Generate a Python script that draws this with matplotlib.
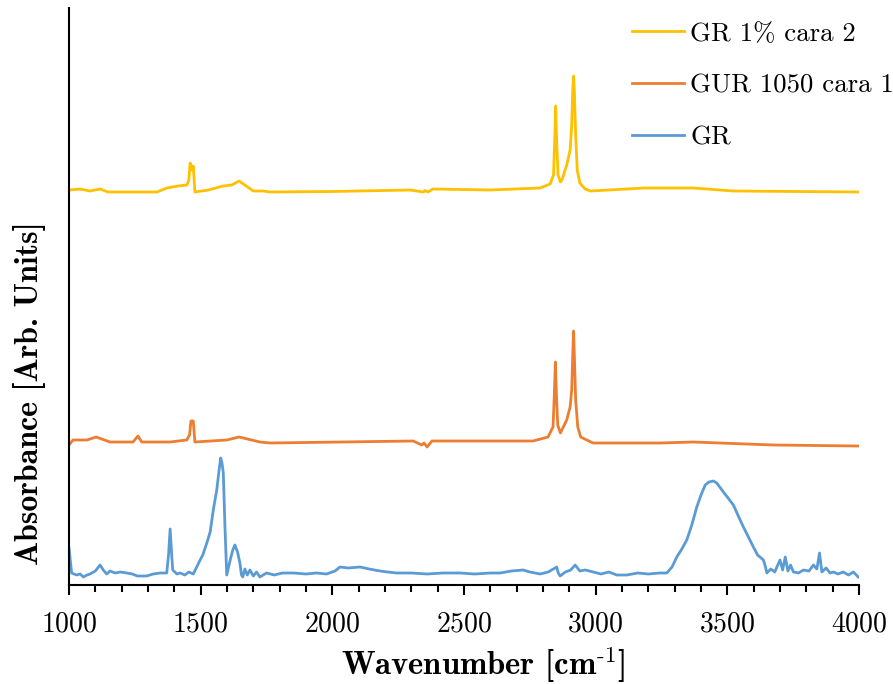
import matplotlib
matplotlib.use('Agg')
import matplotlib.pyplot as plt
from matplotlib.ticker import MultipleLocator

# GR 1% cara 2 (offset spectrum, arb. units)
wn_gr1 = [1000, 1042, 1080, 1118, 1148, 1250, 1334, 1372, 1414, 1448, 1455, 1460, 1466, 1472, 1478,
          1530, 1585, 1618, 1646, 1700, 1737, 1763, 2000, 2295, 2345, 2352, 2363, 2382, 2600, 2789,
          2827, 2840, 2845, 2848, 2851, 2857, 2866, 2872, 2890, 2903, 2909, 2913, 2916, 2919, 2924,
          2930, 2940, 2960, 2980, 3188, 3370, 3522, 3996]
ab_gr1 = [3.95, 3.96, 3.94, 3.96, 3.93, 3.93, 3.93, 3.97, 3.99, 4.00, 4.05, 4.22, 4.15, 4.19, 3.93,
          3.95, 3.99, 4.00, 4.04, 3.94, 3.94, 3.93, 3.935, 3.95, 3.93, 3.945, 3.93, 3.96, 3.95, 3.97,
          4.01, 4.10, 4.50, 4.79, 4.50, 4.10, 4.03, 4.05, 4.20, 4.35, 4.60, 4.95, 5.09, 4.95, 4.50,
          4.15, 4.02, 3.96, 3.94, 3.97, 3.97, 3.94, 3.93]

# GUR 1050 cara 1
wn_gur = [1000, 1015, 1068, 1103, 1156, 1243, 1262, 1276, 1384, 1447, 1458, 1463, 1472, 1478,
          1599, 1646, 1725, 1763, 2307, 2340, 2348, 2360, 2378, 2762, 2819, 2838, 2843, 2847, 2851,
          2856, 2866, 2890, 2903, 2909, 2913, 2916, 2919, 2924, 2932, 2943, 2990, 3244, 3370, 3674, 3996]
ab_gur = [1.40, 1.45, 1.45, 1.48, 1.43, 1.43, 1.49, 1.43, 1.43, 1.45, 1.50, 1.64, 1.64, 1.43,
          1.45, 1.48, 1.43, 1.42, 1.44, 1.40, 1.42, 1.38, 1.44, 1.44, 1.48, 1.58, 1.90, 2.23, 1.90,
          1.60, 1.52, 1.65, 1.78, 1.95, 2.30, 2.54, 2.30, 1.85, 1.58, 1.48, 1.42, 1.42, 1.43, 1.40, 1.39]

# GR
wn_gr = [1000, 1005, 1010, 1020, 1029, 1042, 1055, 1068, 1080, 1100, 1118, 1130, 1143, 1156, 1175,
         1195, 1219, 1240, 1260, 1295, 1320, 1346, 1371, 1378, 1384, 1390, 1394, 1410, 1422, 1440,
         1455, 1472, 1485, 1498, 1508, 1517, 1527, 1536, 1548, 1561, 1570, 1576, 1581, 1586, 1592,
         1599, 1606, 1614, 1622, 1630, 1640, 1649, 1655, 1660, 1668, 1677, 1687, 1700, 1712, 1725,
         1750, 1780, 1810, 1852, 1900, 1940, 1978, 2010, 2029, 2060, 2105, 2140, 2181, 2210, 2244,
         2300, 2360, 2420, 2485, 2540, 2600, 2637, 2680, 2725, 2750, 2789, 2820, 2852, 2858, 2865,
         2885, 2905, 2922, 2940, 2960, 2991, 3020, 3050, 3080, 3118, 3160, 3200, 3244, 3270, 3290,
         3308, 3325, 3346, 3365, 3384, 3400, 3416, 3430, 3447, 3460, 3485, 3500, 3523, 3540, 3561,
         3580, 3599, 3615, 3637, 3645, 3650, 3665, 3680, 3700, 3710, 3720, 3730, 3740, 3751, 3770,
         3789, 3810, 3827, 3840, 3850, 3859, 3875, 3890, 3903, 3920, 3940, 3960, 3979, 3990, 3997]
ab_gr = [0.37, 0.25, 0.12, 0.11, 0.10, 0.11, 0.08, 0.10, 0.11, 0.14, 0.20, 0.15, 0.11, 0.14, 0.12,
         0.13, 0.12, 0.11, 0.09, 0.09, 0.11, 0.12, 0.12, 0.30, 0.56, 0.30, 0.15, 0.11, 0.12, 0.10,
         0.13, 0.11, 0.18, 0.25, 0.30, 0.37, 0.45, 0.53, 0.75, 0.95, 1.15, 1.27, 1.22, 1.12, 0.60,
         0.10, 0.18, 0.27, 0.35, 0.40, 0.33, 0.22, 0.10, 0.08, 0.16, 0.10, 0.15, 0.09, 0.13, 0.08,
         0.12, 0.10, 0.12, 0.12, 0.11, 0.12, 0.11, 0.14, 0.18, 0.17, 0.18, 0.16, 0.14, 0.13, 0.12,
         0.12, 0.11, 0.12, 0.12, 0.11, 0.12, 0.12, 0.14, 0.15, 0.13, 0.11, 0.13, 0.18, 0.12, 0.09,
         0.13, 0.15, 0.20, 0.14, 0.15, 0.13, 0.11, 0.13, 0.10, 0.10, 0.12, 0.11, 0.12, 0.12, 0.18,
         0.28, 0.35, 0.45, 0.60, 0.78, 0.90, 1.00, 1.03, 1.04, 1.02, 0.93, 0.88, 0.80, 0.70, 0.58,
         0.48, 0.38, 0.30, 0.25, 0.18, 0.12, 0.16, 0.13, 0.25, 0.15, 0.28, 0.14, 0.20, 0.13, 0.12,
         0.15, 0.14, 0.20, 0.16, 0.32, 0.13, 0.17, 0.12, 0.13, 0.11, 0.13, 0.10, 0.13, 0.10, 0.08]

labels = ['GR 1% cara 2', 'GUR 1050 cara 1', 'GR']
colors = ['#FFC000', '#ED7D31', '#5B9BD5']

plt.rcParams['font.family'] = 'serif'
plt.rcParams['font.serif'] = ['cmr10']
plt.rcParams['mathtext.fontset'] = 'cm'
plt.rcParams['axes.formatter.use_mathtext'] = True

fig = plt.figure(figsize=(8.93, 6.84), dpi=100)
ax = fig.add_axes([69 / 893, 1 - 585 / 684, 790 / 893, 577 / 684])

for wn, ab, lab, col in zip([wn_gr1, wn_gur, wn_gr], [ab_gr1, ab_gur, ab_gr], labels, colors):
    ax.plot(wn, ab, color=col, linewidth=2.0, label=lab)

ax.set_xlim(1000, 4000)
ax.set_ylim(0, 5.77)
ax.xaxis.set_major_locator(MultipleLocator(500))
ax.xaxis.set_minor_locator(MultipleLocator(100))
ax.tick_params(axis='x', which='major', direction='out', length=7, width=1.5, labelsize=20, pad=12)
ax.tick_params(axis='x', which='minor', direction='out', length=5, width=1.5)
ax.set_yticks([])
for s in ['top', 'right']:
    ax.spines[s].set_visible(False)
for s in ['left', 'bottom']:
    ax.spines[s].set_linewidth(1.5)

ax.set_xlabel(r'Wavenumber [cm$^{\text{-}\mathbf{1}}$]', family='cmb10', fontsize=23.5)
ax.xaxis.set_label_coords((483 - 69) / 790, -(644 - 585) / 577)
ax.set_ylabel('Absorbance [Arb. Units]', family='cmb10', fontsize=23)
ax.yaxis.set_label_coords(-(69 - 46) / 790, (585 - 393) / 577)

ax.legend(loc='upper left', bbox_to_anchor=(632 / 893, 1 - 22 / 684), bbox_transform=fig.transFigure,
          frameon=False, fontsize=19.3, handlelength=1.95, handletextpad=0.22, labelspacing=1.05,
          borderpad=0, borderaxespad=0)

plt.savefig('out.png', dpi=100)
